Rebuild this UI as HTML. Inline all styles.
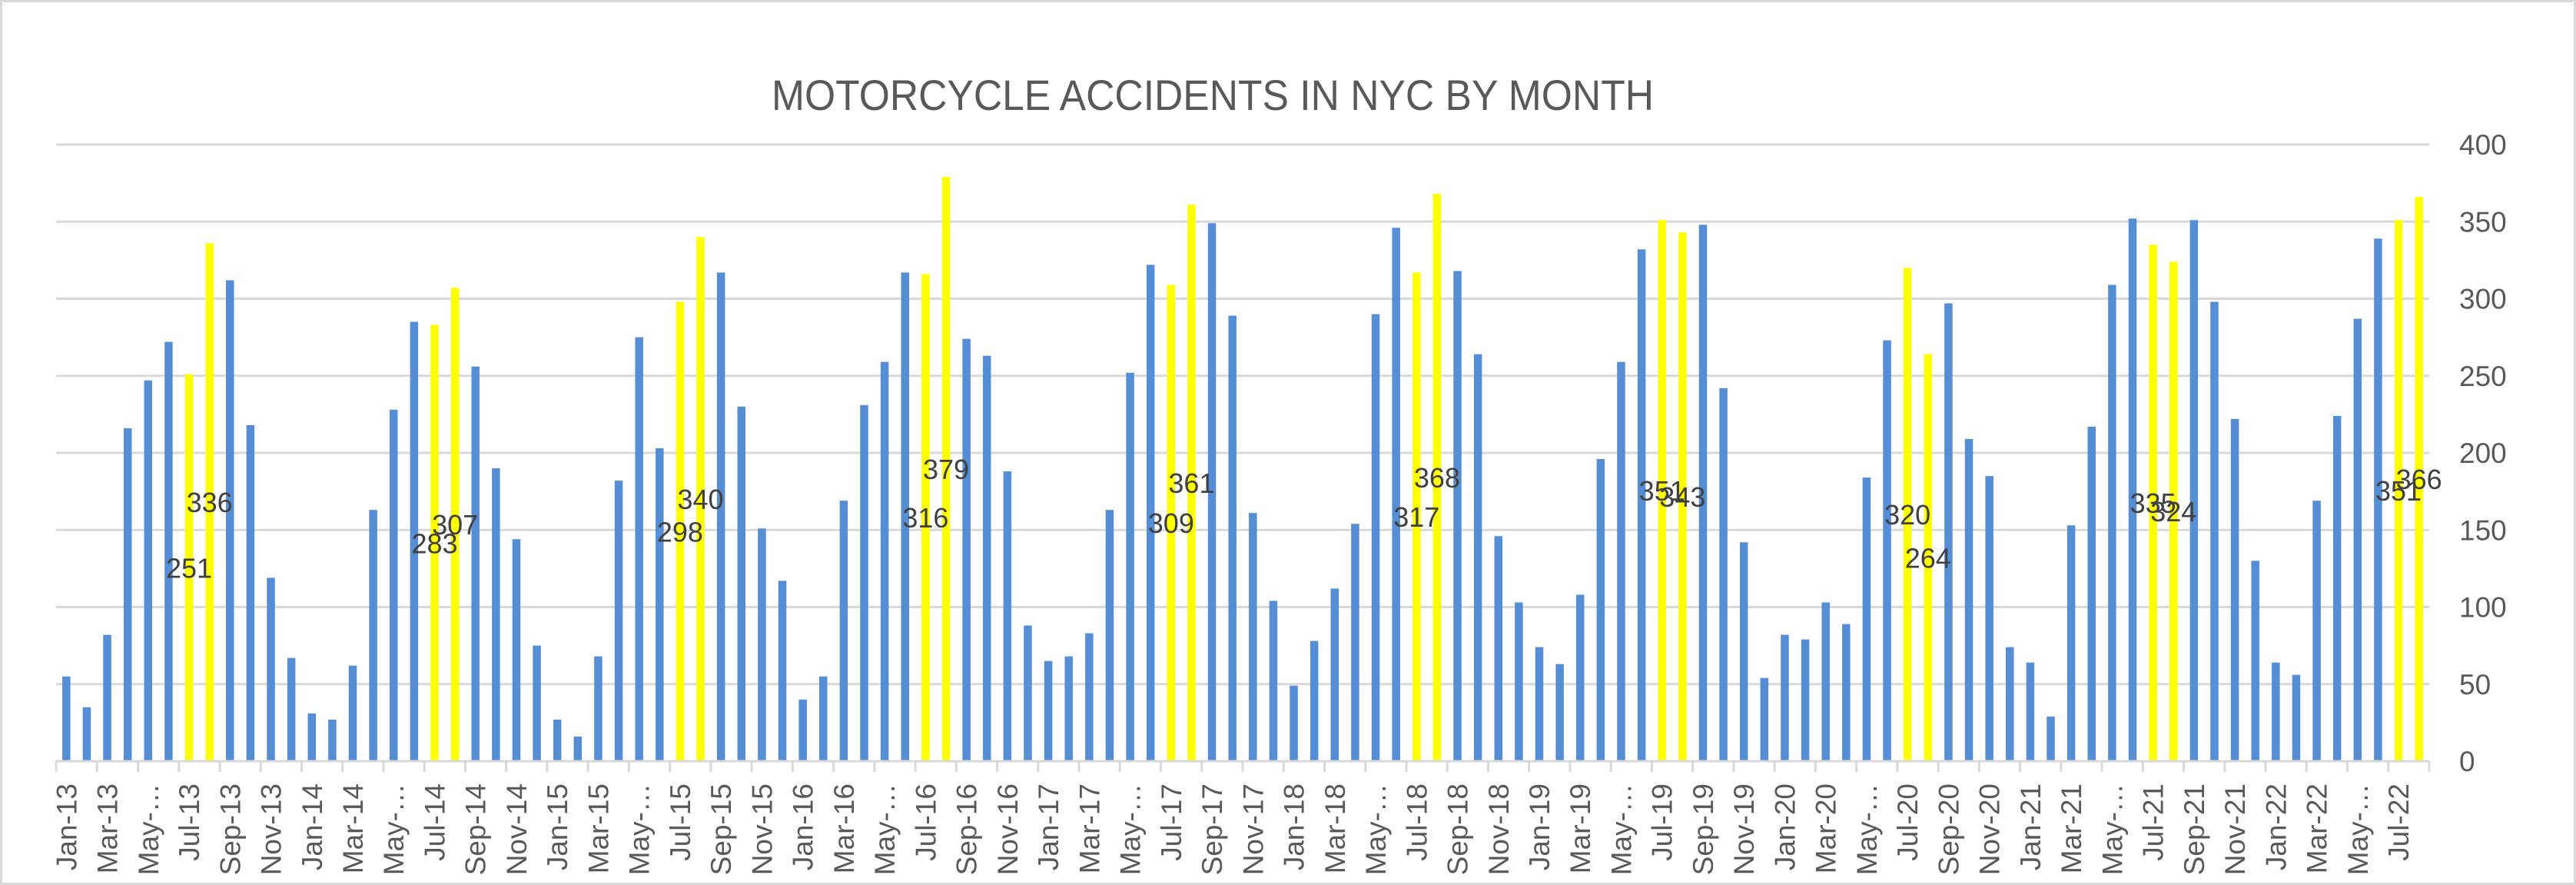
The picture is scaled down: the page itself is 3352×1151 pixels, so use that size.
<!DOCTYPE html>
<html><head><meta charset="utf-8"><style>
html,body{margin:0;padding:0;background:#fff;}
svg{display:block;font-family:"Liberation Sans",sans-serif;}
</style></head><body>
<svg id="chart" width="3352" height="1151" viewBox="0 0 3352 1151" xmlns="http://www.w3.org/2000/svg">
<rect x="1.5" y="1.5" width="3349" height="1148" fill="#fff" stroke="#d9d9d9" stroke-width="3"/>
<text x="1578" y="143" font-size="56" fill="#595959" text-anchor="middle" textLength="1148" lengthAdjust="spacingAndGlyphs">MOTORCYCLE ACCIDENTS IN NYC BY MONTH</text>
<g id="grid"></g>
<g id="bars"></g>
<g id="labels"></g>
<g id="xaxis"></g>
<g id="yaxis"></g>
</svg>
<script>
const monthNames = ["Jan","Feb","Mar","Apr","May","Jun","Jul","Aug","Sep","Oct","Nov","Dec"];
const startYear = 13;
const values = [
55,35,82,216,247,272,251,336,312,218,119,67,
31,27,62,163,228,285,283,307,256,190,144,75,
27,16,68,182,275,203,298,340,317,230,151,117,
40,55,169,231,259,317,316,379,274,263,188,88,
65,68,83,163,252,322,309,361,349,289,161,104,
49,78,112,154,290,346,317,368,318,264,146,103,
74,63,108,196,259,332,351,343,348,242,142,54,
82,79,103,89,184,273,320,264,297,209,185,74,
64,29,153,217,309,352,335,324,351,298,222,130,
64,56,169,224,287,339,351,366
];
const highlightMonths = ["Jul","Aug"];
const yTicks = [0,50,100,150,200,250,300,350,400];

const NS = "http://www.w3.org/2000/svg";
const X0 = 73, X1 = 3161, Y0 = 990, Y1 = 188, YMAX = 400;
const n = values.length;
const band = (X1 - X0) / n;
const barW = 10.5;
function xCenter(i){ return X0 + (i + 0.5) * band; }
function yScale(v){ return Y0 - (v / YMAX) * (Y0 - Y1); }
function mk(tag, attrs, parent){
  const e = document.createElementNS(NS, tag);
  for (const k in attrs) e.setAttribute(k, attrs[k]);
  parent.appendChild(e);
  return e;
}
const categories = values.map((v, i) => monthNames[i % 12] + "-" + (startYear + Math.floor(i / 12)));

const grid = document.getElementById("grid");
const yaxis = document.getElementById("yaxis");
yTicks.forEach(t => {
  const y = yScale(t);
  if (t > 0) {
    const l = mk("line", {x1: X0, x2: X1, y1: y, y2: y, stroke: "#d9d9d9", "stroke-width": 3}, grid);
    
    
  }
  const tx = mk("text", {x: 3200, y: y + 13, "font-size": 37, fill: "#595959"}, yaxis);
  tx.textContent = t;
  
  
});

const bars = document.getElementById("bars");
const labels = document.getElementById("labels");
values.forEach((v, i) => {
  const hl = highlightMonths.includes(monthNames[i % 12]);
  const r = mk("rect", {x: xCenter(i) - barW / 2, y: yScale(v), width: barW, height: Y0 - yScale(v), fill: hl ? "#FFFF00" : "#558ED5"}, bars);
  
  
  if (hl) {
    const t = mk("text", {x: xCenter(i), y: (yScale(v) + Y0) / 2 + 13, "font-size": 36, fill: "#404040", "text-anchor": "middle"}, labels);
    t.textContent = v;
    
    
  }
});

const xaxis = document.getElementById("xaxis");
const ax = mk("line", {x1: X0, x2: X1, y1: Y0, y2: Y0, stroke: "#d9d9d9", "stroke-width": 3}, xaxis);


for (let k = 0; k <= n; k += 2) {
  const x = X0 + k * band;
  const tk = mk("line", {x1: x, x2: x, y1: Y0, y2: Y0 + 14, stroke: "#d9d9d9", "stroke-width": 3}, xaxis);
  
  
}
categories.forEach((c, i) => {
  if (i % 2) return;
  const label = c.startsWith("May") ? "May-…" : c;
  const x = xCenter(i) + 13, y = 1019;
  const t = mk("text", {x: x, y: y, "font-size": 37, fill: "#595959", "text-anchor": "end", transform: "rotate(-90 " + x + " " + y + ")"}, xaxis);
  t.textContent = label;
  
  
});
</script>
</body></html>
